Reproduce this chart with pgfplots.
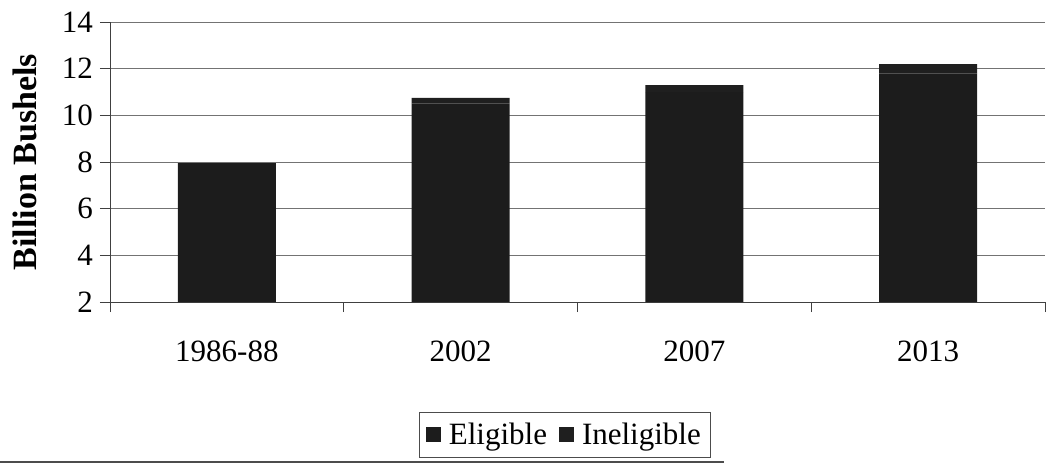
\documentclass[border=0pt]{standalone}
\usepackage{fontspec}
\setmainfont{Liberation Serif}
\usepackage{pgfplots}
\pgfplotsset{compat=1.18}
\definecolor{elig}{HTML}{1C1C1C}
\definecolor{inelig}{HTML}{1F1F1F}
\begin{document}
\begin{tikzpicture}
\path[use as bounding box] (0,0) rectangle (524.5pt,234pt);
\begin{axis}[
  at={(55pt,83pt)}, anchor=south west,
  scale only axis, width=467.5pt, height=140pt,
  ybar stacked, bar width=0.42,
  xmin=-0.5, xmax=3.5, ymin=2, ymax=14,
  ytick={2,4,...,14},
  xtick={-0.5,0.5,1.5,2.5,3.5},
  xticklabels={},
  extra x ticks={0,1,2,3},
  extra x tick labels={1986-88,2002,2007,2013},
  extra x tick style={major tick length=0pt, grid=none},
  axis x line*=bottom, axis y line*=left,
  axis line style={draw=black!75, thin, -},
  ymajorgrids, grid style={draw=black!55, thin},
  tick align=outside, major tick length=5pt,
  tick style={draw=black!75, thin},
  tick label style={font=\fontsize{15.5}{17}\selectfont},
  /pgf/number format/assume math mode=true,
  xticklabel style={yshift=-16pt},
  ylabel={\textbf{Billion Bushels}},
  ylabel style={font=\fontsize{17}{19}\selectfont, at={(axis description cs:0,0.5)}, anchor=south, yshift=33pt},
  legend style={at={(axis description cs:0.487,-0.475)}, anchor=center, draw=black!70, thin,
    font=\fontsize{15.5}{17}\selectfont, legend columns=2, inner sep=3pt,
    /tikz/every odd column/.append style={column sep=2pt},
    /tikz/every even column/.append style={column sep=4pt}},
  legend cell align=left,
  legend image code/.code={\fill[#1] (0pt,-3.5pt) rectangle (7.5pt,4pt);},
]
\addplot[fill=elig, draw=none] coordinates {(0,7.95) (1,10.5) (2,11.0) (3,11.8)};
\addplot[fill=inelig, draw=none] coordinates {(0,0) (1,0.25) (2,0.3) (3,0.4)};
\legend{Eligible,Ineligible}
\end{axis}
\draw[black!70, line width=0.8pt] (0,3pt) -- (362pt,3pt);
\end{tikzpicture}
\end{document}
